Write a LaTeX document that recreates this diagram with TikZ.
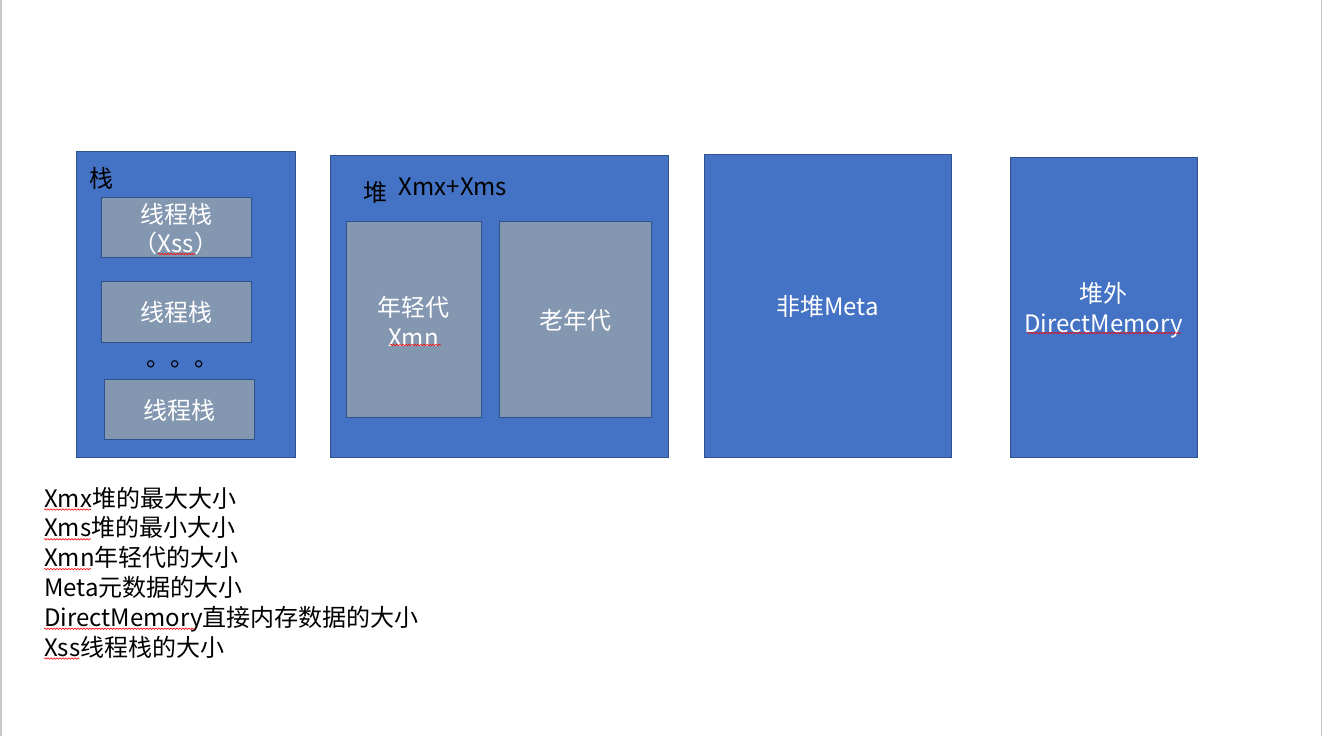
\documentclass[tikz,border=0pt]{standalone}
\usepackage{fontspec}
\setmainfont{Noto Sans CJK SC}
\usetikzlibrary{decorations.pathmorphing}
\definecolor{boxblue}{HTML}{4472C4}
\definecolor{boxedge}{HTML}{2F528F}
\definecolor{innergray}{HTML}{8497B0}
\definecolor{pageedge}{HTML}{C8C8C8}
\begin{document}
\begin{tikzpicture}[x=1pt,y=-1pt,
  txt/.style={font=\fontsize{24}{29.5}\selectfont},
  outerbox/.style={draw=boxedge, fill=boxblue, line width=0.9pt, inner sep=0pt},
  innerbox/.style={draw=boxedge, fill=innergray, line width=0.9pt, inner sep=0pt},
  boxtext/.style={txt, text=white, inner sep=0pt, align=center},
  lbl/.style={txt, text=black, inner sep=0pt},
  legendline/.style={txt, text=black, inner sep=0pt, anchor=base west},
  squig/.style={draw=red, line width=0.6pt, decorate, decoration={snake, segment length=3pt, amplitude=0.7pt}}
]
\useasboundingbox (0,0) rectangle (1323,736);
% page edges
\draw[pageedge, line width=1.5pt] (1,0) -- (1,736);
\draw[pageedge, line width=1.5pt] (1321.5,0) -- (1321.5,736);

% stack
\node[outerbox, minimum width=219pt, minimum height=306pt] (stack) at (185.5,304) {};
\node[lbl] (stacklbl) at (101.5,178) {栈};
\node[innerbox, minimum width=150pt, minimum height=60pt] (t1) at (176,227) {};
\node[boxtext] (t1text) at ([yshift=-2pt]t1.center) {线程栈\\（Xss）};
\node[innerbox, minimum width=150pt, minimum height=61pt] (t2) at (176,311.5) {};
\node[boxtext] (t2text) at ([yshift=-1pt]t2.center) {线程栈};
\node[lbl, anchor=base west] (dots) at (146,366) {。。。};
\node[innerbox, minimum width=150pt, minimum height=60pt] (t3) at (179,409) {};
\node[boxtext] (t3text) at ([yshift=-1pt]t3.center) {线程栈};

% heap
\node[outerbox, minimum width=338pt, minimum height=302pt] (heap) at (499,306) {};
\node[lbl] (heaplbl) at (375,192) {堆};
\node[lbl, anchor=base] (heapsize) at (453,195) {Xmx+Xms};
\node[innerbox, minimum width=135pt, minimum height=196pt] (young) at (413.5,319) {};
\node[boxtext] (youngtext) at ([yshift=-2.5pt]young.center) {年轻代\\Xmn};
\node[innerbox, minimum width=152pt, minimum height=196pt] (old) at (575,319) {};
\node[boxtext] (oldtext) at ([yshift=-1pt]old.center) {老年代};

% non-heap
\node[outerbox, minimum width=247pt, minimum height=303pt] (meta) at (827.5,305.5) {};
\node[boxtext] (metatext) at ([yshift=-1pt]meta.center) {非堆Meta};

% off-heap
\node[outerbox, minimum width=187pt, minimum height=300pt] (direct) at (1103.5,307) {};
\node[boxtext] (directtext) at ([yshift=-3pt]direct.center) {堆外\\DirectMemory};

% legend
\node[legendline] (l1) at (44,507) {Xmx堆的最大大小};
\node[legendline] (l2) at ([yshift=-29.8pt]l1.base west) {Xms堆的最小大小};
\node[legendline] (l3) at ([yshift=-29.8pt]l2.base west) {Xmn年轻代的大小};
\node[legendline] (l4) at ([yshift=-29.8pt]l3.base west) {Meta元数据的大小};
\node[legendline] (l5) at ([yshift=-29.8pt]l4.base west) {DirectMemory直接内存数据的大小};
\node[legendline] (l6) at ([yshift=-29.8pt]l5.base west) {Xss线程栈的大小};

% spell-check squiggles
\path[squig] (158,254) -- (195,254);
\path[squig] (390,345) -- (441,345);
\path[squig] (1027,333) -- (1181,333);
\path[squig] ([yshift=-2.5pt]l1.base west) -- ++(47,0);
\path[squig] ([yshift=-2.5pt]l2.base west) -- ++(47,0);
\path[squig] ([yshift=-2.5pt]l3.base west) -- ++(47,0);
\path[squig] ([yshift=-2.5pt]l5.base west) -- ++(151,0);
\path[squig] ([yshift=-2.5pt]l6.base west) -- ++(35,0);
\end{tikzpicture}
\end{document}
